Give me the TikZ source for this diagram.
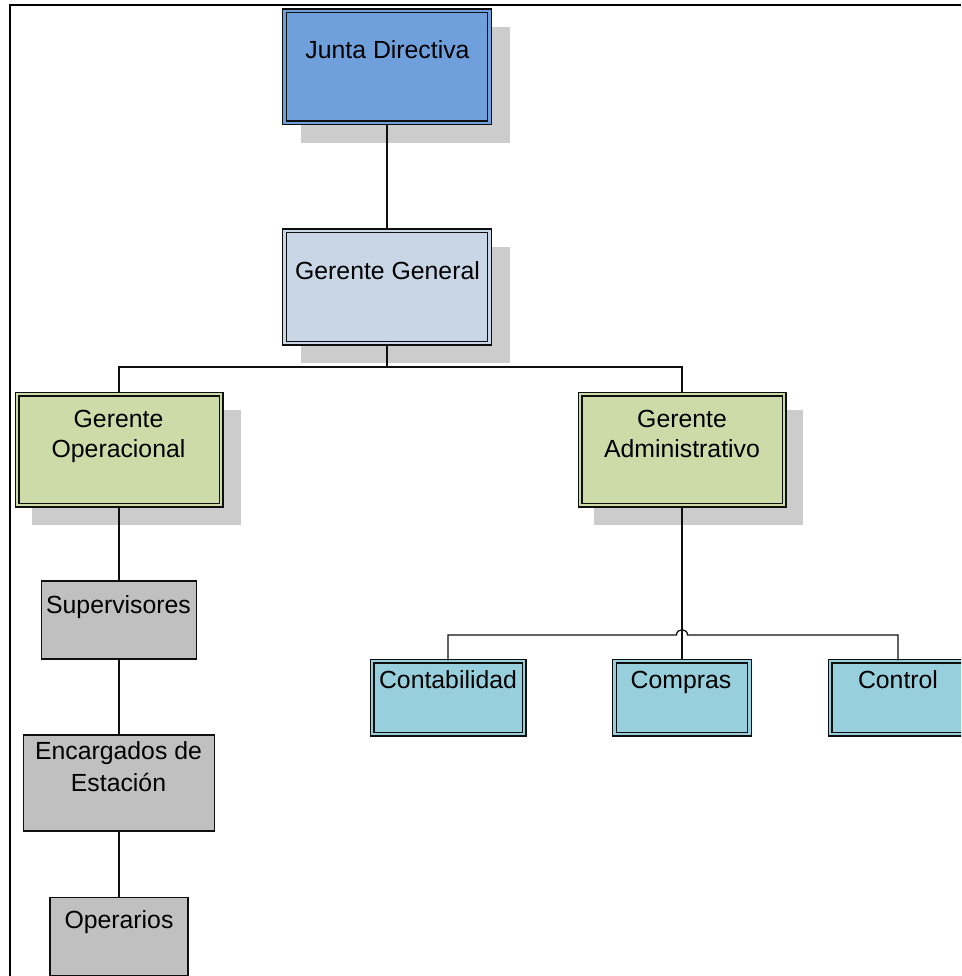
\documentclass[tikz,border=0pt]{standalone}
\usepackage{fontspec}
\setmainfont{Liberation Sans}
\definecolor{jdblue}{RGB}{111,160,220}
\definecolor{ggblue}{RGB}{200,214,230}
\definecolor{mgreen}{RGB}{204,219,168}
\definecolor{aqua}{RGB}{152,207,221}
\definecolor{gbox}{RGB}{192,192,192}
\definecolor{shad}{RGB}{204,204,204}
\definecolor{edge}{RGB}{15,15,15}
\tikzset{
  dbox/.style={draw=edge, line width=1.3pt, double distance=2.4pt, rectangle, inner sep=0pt},
  sbox/.style={draw=edge, line width=1.3pt, rectangle, inner sep=0pt},
  shadowbox/.style={fill=shad, draw=none, rectangle, inner sep=0pt},
  lbl/.style={anchor=base, inner sep=0pt, text=black, font=\fontsize{24.8}{30}\selectfont},
  conn/.style={draw=edge, line width=1.3pt},
  frame/.style={draw=black, line width=2.4pt}
}
\begin{document}
\begin{tikzpicture}[x=1pt,y=-1pt]
\useasboundingbox (0,0) rectangle (961,976);
\begin{scope}
\clip (0,0) rectangle (961,976);
% frame
\coordinate (fTL) at (10,5);
\coordinate (fTR) at (961,5);
\coordinate (fBL) at (10,976);
\draw[frame] (fBL) -- (fTL) -- (fTR);
% shadows
\node[shadowbox, minimum width=209pt, minimum height=116pt] (jdS) at (405,85) {};
\node[shadowbox, minimum width=209pt, minimum height=116pt] (ggS) at (405,305) {};
\node[shadowbox, minimum width=209pt, minimum height=115pt] (goS) at (136,467.5) {};
\node[shadowbox, minimum width=209pt, minimum height=115pt] (gaS) at (698.5,467.5) {};
% boxes
\node[dbox, fill=jdblue, double=jdblue, minimum width=205pt, minimum height=112pt] (jd) at (387,67) {};
\node[dbox, fill=ggblue, double=ggblue, minimum width=205pt, minimum height=112pt] (gg) at (387,287) {};
\node[dbox, fill=mgreen, double=mgreen, minimum width=204pt, minimum height=111pt] (go) at (119,449.5) {};
\node[dbox, fill=mgreen, double=mgreen, minimum width=204pt, minimum height=111pt] (ga) at (682,449.5) {};
\node[sbox, fill=gbox, minimum width=155pt, minimum height=78pt] (sup) at (119,620) {};
\node[sbox, fill=gbox, minimum width=191pt, minimum height=96pt] (enc) at (119,783) {};
\node[sbox, fill=gbox, minimum width=138pt, minimum height=78pt] (op) at (119,936.5) {};
\node[dbox, fill=aqua, double=aqua, minimum width=152pt, minimum height=73pt] (cont) at (448,697.5) {};
\node[dbox, fill=aqua, double=aqua, minimum width=135pt, minimum height=73pt] (comp) at (682,697.5) {};
\node[dbox, fill=aqua, double=aqua, minimum width=136pt, minimum height=73pt] (ctrl) at (898,697.5) {};
% labels
\node[lbl] (jdT) at (387.5,59) {Junta Directiva};
\node[lbl] (ggT) at (387.5,279) {Gerente General};
\node[lbl] (goT1) at (118.5,427) {Gerente};
\node[lbl] (goT2) at (118.5,457) {Operacional};
\node[lbl] (gaT1) at (682,427) {Gerente};
\node[lbl] (gaT2) at (682,457) {Administrativo};
\node[lbl] (supT) at (118.5,613) {Supervisores};
\node[lbl] (encT1) at (118.5,759) {Encargados de};
\node[lbl] (encT2) at (118.5,791) {Estación};
\node[lbl] (opT) at (119,928) {Operarios};
\node[lbl] (contT) at (448,688) {Contabilidad};
\node[lbl] (compT) at (681,688) {Compras};
\node[lbl] (ctrlT) at (898,688) {Control};
% connectors
\draw[conn] (jd.south) -- (gg.north);
\coordinate (busA) at (387,367);
\draw[conn] (gg.south) -- (busA);
\draw[conn] (go.north) |- (busA) -| (ga.north);
\draw[conn] (go.south) -- (sup.north);
\draw[conn] (sup.south) -- (enc.north);
\draw[conn] (enc.south) -- (op.north);
\draw[conn] (ga.south) -- (comp.north);
\coordinate (busB) at (448,635);
\coordinate (hopL) at (676.5,635);
\coordinate (hopR) at (687.5,635);
\draw[conn] (cont.north) -- (busB) -- (hopL) .. controls (676.5,628) and (687.5,628) .. (hopR) -- (ctrl.north |- busB) -- (ctrl.north);
\end{scope}
\end{tikzpicture}
\end{document}
